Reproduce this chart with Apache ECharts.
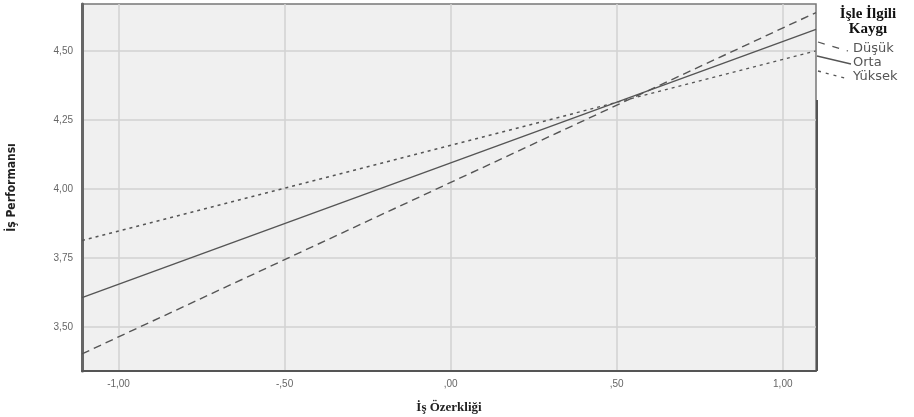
<!DOCTYPE html>
<html>
<head>
<meta charset="utf-8">
<script src="https://cdn.jsdelivr.net/npm/echarts@6/dist/echarts.min.js"></script>
<style>html,body{margin:0;padding:0;background:#fff}#c{width:914px;height:417px}</style>
</head>
<body>
<div id="c"></div>
<script>
var xValues = [-1.11, 1.10];
var dusuk = [3.402, 4.639];
var orta = [3.606, 4.578];
var yuksek = [3.813, 4.500];
var xTicks = [-1, -0.5, 0, 0.5, 1];
var xTickLabels = ['-1,00', '-,50', ',00', ',50', '1,00'];
var yTicks = [3.5, 3.75, 4, 4.25, 4.5];
var yTickLabels = ['3,50', '3,75', '4,00', '4,25', '4,50'];
var seriesNames = ['Düşük', 'Orta', 'Yüksek'];
var legendTitle = 'İşle İlgili\nKaygı';

function pairs(ys) { return xValues.map(function (x, i) { return [x, ys[i]]; }); }
function lbl(ticks, labels) { return function (v) { for (var i = 0; i < ticks.length; i++) if (Math.abs(ticks[i] - v) < 1e-6) return labels[i]; return ''; }; }

var chart = echarts.init(document.getElementById('c'));
var lineColor = '#555';
var styles = [
  { type: [8, 5], width: 1.4 },
  { type: 'solid', width: 1.4 },
  { type: [3, 4], width: 1.4 }
];
var data = [dusuk, orta, yuksek];
chart.setOption({
  animation: false,
  grid: { left: 82, right: 98, top: 4, bottom: 46, outerBoundsMode: 'none', containLabel: false, show: true, backgroundColor: '#f0f0f0', borderColor: '#777', borderWidth: 1.5 },
  xAxis: {
    type: 'value', min: xValues[0], max: xValues[1],
    name: 'İş Özerkliği', nameLocation: 'middle', nameGap: 30,
    nameTextStyle: { fontFamily: 'Liberation Serif', fontWeight: 'bold', fontSize: 13, color: '#222' },
    axisLine: { show: true, onZero: false, lineStyle: { color: '#555', width: 2 } },
    axisTick: { show: false, customValues: xTicks },
    axisLabel: { customValues: xTicks, formatter: lbl(xTicks, xTickLabels), color: '#666', fontSize: 10, fontFamily: 'Liberation Sans', margin: 8 },
    splitLine: { show: true, lineStyle: { color: '#d2d2d2', width: 1.5 } }
  },
  yAxis: {
    type: 'value', min: 3.34, max: 4.67,
    name: 'İş Performansı', nameLocation: 'middle', nameGap: 64, nameRotate: 90,
    nameTextStyle: { fontFamily: 'DejaVu Sans Condensed', fontWeight: 'bold', fontSize: 12, color: '#222' },
    axisLine: { show: true, onZero: false, lineStyle: { color: '#666', width: 3 } },
    axisTick: { show: false, customValues: yTicks },
    axisLabel: { customValues: yTicks, formatter: lbl(yTicks, yTickLabels), color: '#666', fontSize: 10, fontFamily: 'Liberation Sans', margin: 9 },
    splitLine: { show: true, lineStyle: { color: '#d2d2d2', width: 1.5 } }
  },
  series: seriesNames.map(function (n, i) {
    return { name: n, type: 'line', data: pairs(data[i]), symbol: 'none', lineStyle: { color: lineColor, width: styles[i].width, type: styles[i].type } };
  }),
  graphic: [
    { type: 'text', style: { x: 868, y: 7, text: legendTitle, font: 'bold 15px "Liberation Serif"', fill: '#111', align: 'center', verticalAlign: 'top', lineHeight: 15 } },
    { type: 'line', shape: { x1: 818, y1: 42, x2: 848, y2: 51 }, style: { stroke: lineColor, lineWidth: 1.3, lineDash: [7, 8] } },
    { type: 'line', shape: { x1: 817, y1: 56, x2: 851, y2: 64 }, style: { stroke: lineColor, lineWidth: 1.3 } },
    { type: 'line', shape: { x1: 818, y1: 71, x2: 845, y2: 78 }, style: { stroke: lineColor, lineWidth: 1.3, lineDash: [3, 5] } },
    { type: 'text', style: { x: 853, y: 49, text: seriesNames[0], font: '13px "DejaVu Sans"', fill: '#555', verticalAlign: 'middle' } },
    { type: 'text', style: { x: 853, y: 63, text: seriesNames[1], font: '13px "DejaVu Sans"', fill: '#555', verticalAlign: 'middle' } },
    { type: 'text', style: { x: 853, y: 77, text: seriesNames[2], font: '13px "DejaVu Sans"', fill: '#555', verticalAlign: 'middle' } },
    { type: 'line', shape: { x1: 817, y1: 100, x2: 817, y2: 371 }, style: { stroke: '#555', lineWidth: 2 } }
  ]
});
</script>
</body>
</html>
